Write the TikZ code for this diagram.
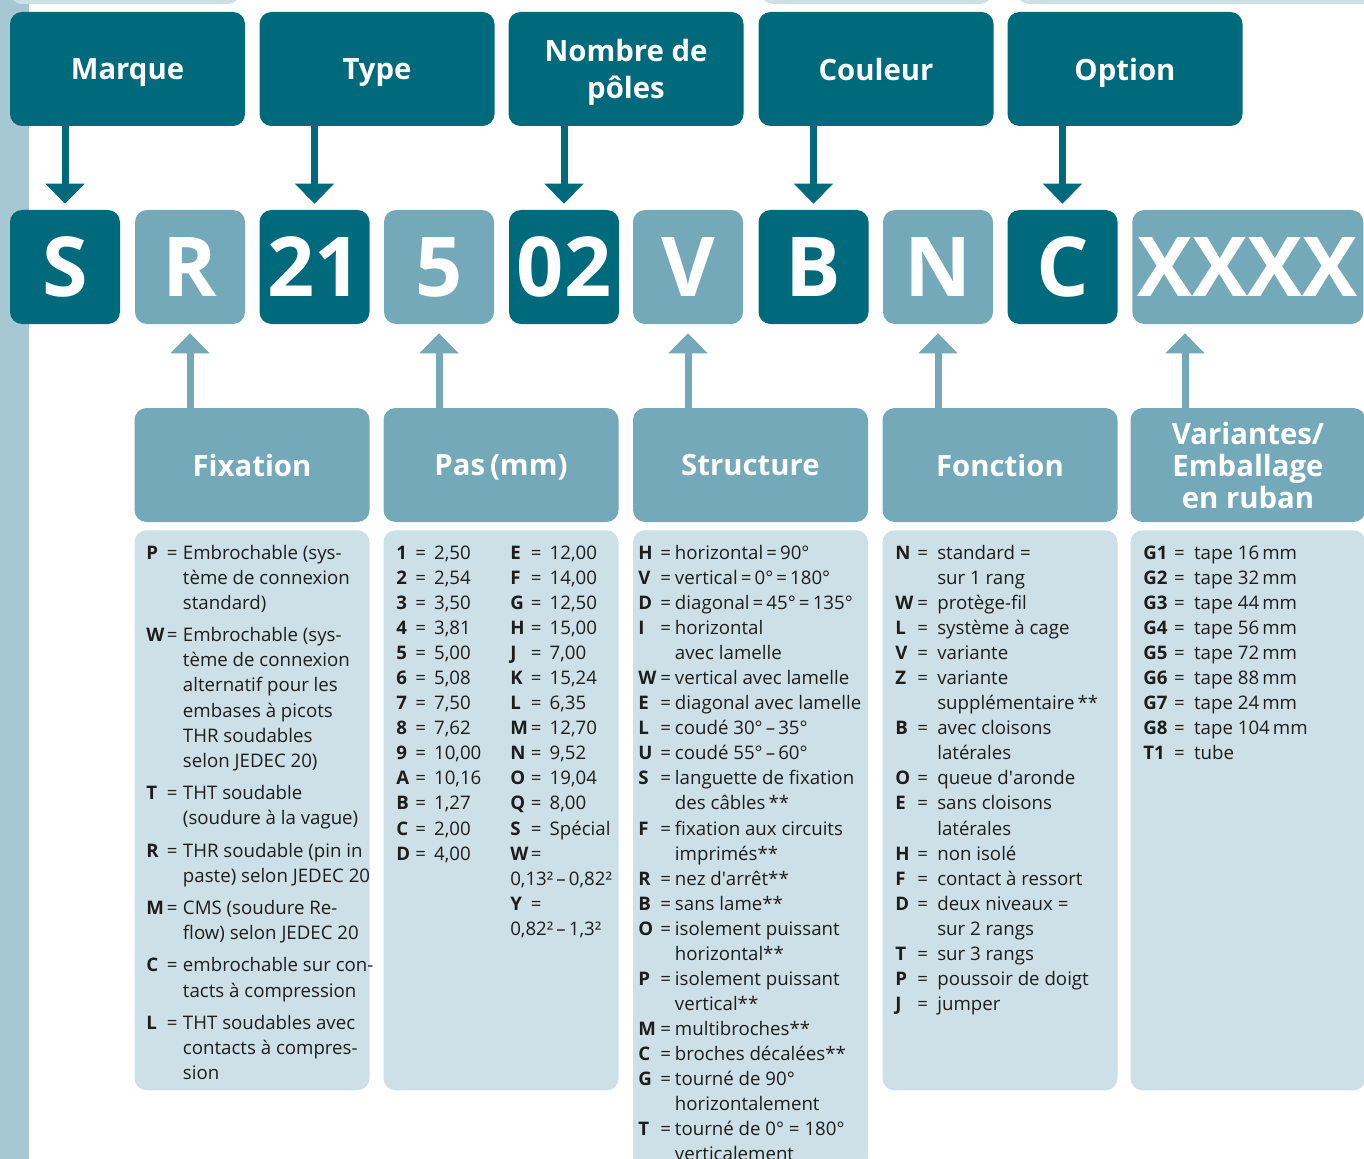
\documentclass[tikz,border=0pt]{standalone}
\usepackage{fontspec}
\setmainfont{Open Sans}
\usetikzlibrary{arrows.meta,positioning}

\definecolor{darkcode}{HTML}{006A7D}
\definecolor{midcode}{HTML}{74A9B9}
\definecolor{palecode}{HTML}{CDE0E7}
\definecolor{stripcode}{HTML}{A6C8D2}
\definecolor{inkcode}{HTML}{1D1D1B}

\tikzset{
  headbox/.style={rounded corners=9pt, minimum width=176.25pt, minimum height=85.5pt,
    inner sep=0pt, text=white, align=center, text depth=0pt,
    font=\bfseries\fontsize{22}{27.75}\selectfont},
  tophead/.style={headbox, fill=darkcode},
  bothead/.style={headbox, fill=midcode},
  codebox/.style={rounded corners=9pt, minimum width=82.5pt, minimum height=85.5pt,
    inner sep=0pt, text=white, font=\bfseries\fontsize{62}{62}\selectfont},
  codedark/.style={codebox, fill=darkcode},
  codemid/.style={codebox, fill=midcode},
  listbox/.style={rounded corners=9pt, fill=palecode, minimum width=176.25pt,
    inner sep=0pt, anchor=north},
  listtext/.style={anchor=north west, inner sep=0pt, text=inkcode,
    font=\fontsize{14}{18.8}\selectfont},
  downarrow/.style={draw=darkcode, line width=5.25pt, shorten >=4.5pt,
    -{Triangle[width=28.5pt,length=15pt]}},
  uparrow/.style={draw=midcode, line width=5.25pt, shorten >=6.75pt,
    -{Triangle[width=28.5pt,length=15pt]}},
}

\newcommand{\eqk}[1]{\textbf{#1}}

\begin{document}
\begin{tikzpicture}[x=0.75pt, y=-0.75pt]

  \useasboundingbox (0,0) rectangle (1364,1159);

  % background
  \fill[stripcode] (0,0) rectangle (29,1159);
  \fill[palecode, rounded corners=9pt] (10,-30) rectangle (240,4);
  \fill[palecode, rounded corners=9pt] (761,-30) rectangle (992,4);
  \fill[palecode, rounded corners=9pt] (1017,-30) rectangle (1400,4);

  % top headers
  \node[tophead] (hMarque)  at (127.5,69) {Marque};
  \node[tophead] (hType)    at (377,69)   {Type};
  \node[tophead] (hPoles)   at (626,69)   {Nombre de\\pôles};
  \node[tophead] (hCouleur) at (876,69)   {Couleur};
  \node[tophead] (hOption)  at (1125,69)  {Option};

  % code
  \node[codedark] (cS)  at (65,267)    {S};
  \node[codemid]  (cR)  at (190,267)   {R};
  \node[codedark] (c21) at (314.5,267) {21};
  \node[codemid]  (c5)  at (439,267)   {5};
  \node[codedark] (c02) at (564,267)   {02};
  \node[codemid]  (cV)  at (688,267)   {V};
  \node[codedark] (cB)  at (813.5,267) {B};
  \node[codemid]  (cN)  at (938,267)   {N};
  \node[codedark] (cC)  at (1062.5,267){C};
  \node[codemid, minimum width=173.25pt, anchor=west] (cX) at (1132,267) {XXXX};

  % bottom headers
  \node[bothead] (hFix)    at (252,465)    {Fixation};
  \node[bothead] (hPas)    at (501,465)    {Pas\,(mm)};
  \node[bothead] (hStruct) at (750.5,465)  {Structure};
  \node[bothead] (hFonc)   at (1000,465)   {Fonction};
  \node[bothead, font=\bfseries\fontsize{22}{24}\selectfont] (hVar) at (1248,465) {Variantes/\\Emballage\\en ruban};

  % lists
  \node[listbox, minimum height=420pt] (bFix)    at (252,530)   {};
  \node[listbox, minimum height=420pt] (bPas)    at (501,530)   {};
  \node[listbox, minimum height=480pt] (bStruct) at (750.5,530) {};
  \node[listbox, minimum height=420pt] (bFonc)   at (1000,530)  {};
  \node[listbox, minimum height=420pt] (bVar)    at (1248,530)  {};

  \node[listtext] (tFix) at (146,541.5) {%
    \begin{tabular}{@{}l@{\hspace{2pt}}l@{\hspace{4pt}}l@{}}
      \eqk{P} & = & Embrochable (sys-\\
              &   & tème de connexion\\
              &   & standard)\\[5.5pt]
      \eqk{W} & = & Embrochable (sys-\\
              &   & tème de connexion\\
              &   & alternatif pour les\\
              &   & embases à picots\\
              &   & THR soudables\\
              &   & selon JEDEC 20)\\[5.5pt]
      \eqk{T} & = & THT soudable\\
              &   & (soudure à la vague)\\[5.5pt]
      \eqk{R} & = & THR soudable (pin in\\
              &   & paste) selon JEDEC 20\\[5.5pt]
      \eqk{M} & = & CMS (soudure Re-\\
              &   & flow) selon JEDEC 20\\[5.5pt]
      \eqk{C} & = & embrochable sur con-\\
              &   & tacts à compression\\[5.5pt]
      \eqk{L} & = & THT soudables avec\\
              &   & contacts à compres-\\
              &   & sion
    \end{tabular}};

  \node[listtext] (tPasA) at (396,541.5) {%
    \begin{tabular}{@{}l@{\hspace{4pt}}l@{\hspace{6pt}}l@{}}
      \eqk{1} & = & 2,50\\
      \eqk{2} & = & 2,54\\
      \eqk{3} & = & 3,50\\
      \eqk{4} & = & 3,81\\
      \eqk{5} & = & 5,00\\
      \eqk{6} & = & 5,08\\
      \eqk{7} & = & 7,50\\
      \eqk{8} & = & 7,62\\
      \eqk{9} & = & 10,00\\
      \eqk{A} & = & 10,16\\
      \eqk{B} & = & 1,27\\
      \eqk{C} & = & 2,00\\
      \eqk{D} & = & 4,00
    \end{tabular}};

  \node[listtext] (tPasB) at (510,541.5) {%
    \begin{tabular}{@{}l@{\hspace{2pt}}l@{\hspace{6pt}}l@{}}
      \eqk{E} & = & 12,00\\
      \eqk{F} & = & 14,00\\
      \eqk{G} & = & 12,50\\
      \eqk{H} & = & 15,00\\
      \eqk{J} & = & 7,00\\
      \eqk{K} & = & 15,24\\
      \eqk{L} & = & 6,35\\
      \eqk{M} & = & 12,70\\
      \eqk{N} & = & 9,52\\
      \eqk{O} & = & 19,04\\
      \eqk{Q} & = & 8,00\\
      \eqk{S} & = & Spécial\\
      \eqk{W} & = & \\
      \multicolumn{3}{@{}l@{}}{0,13²\,–\,0,82²}\\
      \eqk{Y} & = & \\
      \multicolumn{3}{@{}l@{}}{0,82²\,–\,1,3²}
    \end{tabular}};

  \node[listtext] (tStruct) at (638,541.5) {%
    \begin{tabular}{@{}l@{\hspace{3pt}}l@{\hspace{3pt}}l@{}}
      \eqk{H} & = & horizontal\,=\,90°\\
      \eqk{V} & = & vertical\,=\,0°\,=\,180°\\
      \eqk{D} & = & diagonal\,=\,45°\,=\,135°\\
      \eqk{I} & = & horizontal\\
              &   & avec lamelle\\
      \eqk{W} & = & vertical avec lamelle\\
      \eqk{E} & = & diagonal avec lamelle\\
      \eqk{L} & = & coudé 30°\,–\,35°\\
      \eqk{U} & = & coudé 55°\,–\,60°\\
      \eqk{S} & = & languette de fixation\\
              &   & des câbles\,**\\
      \eqk{F} & = & fixation aux circuits\\
              &   & imprimés**\\
      \eqk{R} & = & nez d\textquotesingle arrêt**\\
      \eqk{B} & = & sans lame**\\
      \eqk{O} & = & isolement puissant\\
              &   & horizontal**\\
      \eqk{P} & = & isolement puissant\\
              &   & vertical**\\
      \eqk{M} & = & multibroches**\\
      \eqk{C} & = & broches décalées**\\
      \eqk{G} & = & tourné de 90°\\
              &   & horizontalement\\
      \eqk{T} & = & tourné de 0° = 180°\\
              &   & verticalement
    \end{tabular}};

  \node[listtext] (tFonc) at (895,541.5) {%
    \begin{tabular}{@{}l@{\hspace{3pt}}l@{\hspace{7pt}}l@{}}
      \eqk{N} & = & standard =\\
              &   & sur 1 rang\\
      \eqk{W} & = & protège-fil\\
      \eqk{L} & = & système à cage\\
      \eqk{V} & = & variante\\
      \eqk{Z} & = & variante\\
              &   & supplémentaire\,**\\
      \eqk{B} & = & avec cloisons\\
              &   & latérales\\
      \eqk{O} & = & queue d\textquotesingle aronde\\
      \eqk{E} & = & sans cloisons\\
              &   & latérales\\
      \eqk{H} & = & non isolé\\
      \eqk{F} & = & contact à ressort\\
      \eqk{D} & = & deux niveaux =\\
              &   & sur 2 rangs\\
      \eqk{T} & = & sur 3 rangs\\
      \eqk{P} & = & poussoir de doigt\\
      \eqk{J} & = & jumper
    \end{tabular}};

  \node[listtext] (tVar) at (1143,541.5) {%
    \begin{tabular}{@{}l@{\hspace{5pt}}l@{\hspace{7pt}}l@{}}
      \eqk{G1} & = & tape 16\,mm\\
      \eqk{G2} & = & tape 32\,mm\\
      \eqk{G3} & = & tape 44\,mm\\
      \eqk{G4} & = & tape 56\,mm\\
      \eqk{G5} & = & tape 72\,mm\\
      \eqk{G6} & = & tape 88\,mm\\
      \eqk{G7} & = & tape 24\,mm\\
      \eqk{G8} & = & tape 104\,mm\\
      \eqk{T1} & = & tube
    \end{tabular}};

  % Arrows
  \draw[downarrow] (cS |- hMarque.south)  -- (cS);
  \draw[downarrow] (c21 |- hType.south)   -- (c21);
  \draw[downarrow] (c02 |- hPoles.south)  -- (c02);
  \draw[downarrow] (cB |- hCouleur.south) -- (cB);
  \draw[downarrow] (cC |- hOption.south)  -- (cC);

  \coordinate (xv) at (1185,408);
  \draw[uparrow] (cR |- hFix.north)    -- (cR);
  \draw[uparrow] (c5 |- hPas.north)    -- (c5);
  \draw[uparrow] (cV |- hStruct.north) -- (cV);
  \draw[uparrow] (cN |- hFonc.north)   -- (cN);
  \draw[uparrow] (xv) -- (xv |- cX.south);

\end{tikzpicture}
\end{document}
